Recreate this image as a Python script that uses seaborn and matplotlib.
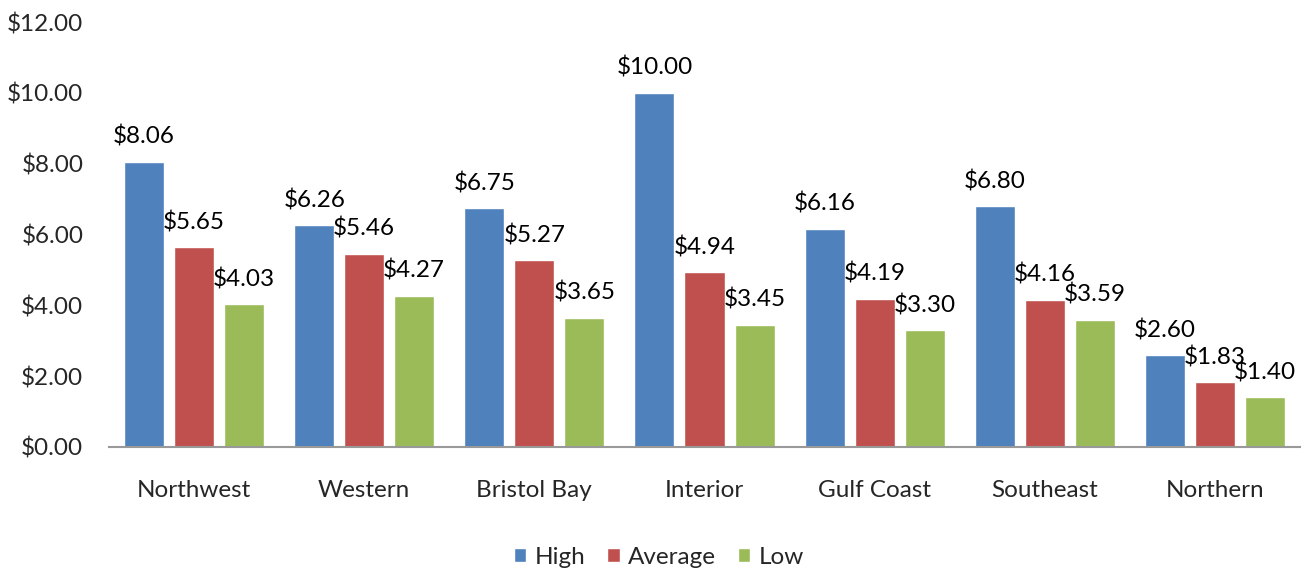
import pandas as pd
import seaborn as sns
import matplotlib.pyplot as plt

regions = ["Northwest", "Western", "Bristol Bay", "Interior", "Gulf Coast", "Southeast", "Northern"]
high = [8.06, 6.26, 6.75, 10.00, 6.16, 6.80, 2.60]
average = [5.65, 5.46, 5.27, 4.94, 4.19, 4.16, 1.83]
low = [4.03, 4.27, 3.65, 3.45, 3.30, 3.59, 1.40]
series = ["High", "Average", "Low"]
colors = ["#4F81BD", "#C0504D", "#9BBB59"]

df = pd.DataFrame({"region": regions, "High": high, "Average": average, "Low": low})
df = df.melt(id_vars="region", var_name="level", value_name="price")

sns.set_style("white")
plt.rcParams["font.family"] = ["Lato", "DejaVu Sans"]
fs = 17.5

fig = plt.figure(figsize=(13.04, 5.71), dpi=100)
ax = fig.add_axes([109 / 1304, 1 - 447 / 571, 1191 / 1304, 425 / 571])

sns.barplot(data=df, x="region", y="price", hue="level", hue_order=series,
            palette=colors, width=0.882, gap=0.2, saturation=1, ax=ax, legend=True)

for cont in ax.containers:
    ax.bar_label(cont, labels=["$%.2f" % v for v in cont.datavalues],
                 padding=10, fontsize=fs, color="black")

ax.set_ylim(0, 12)
ax.set_xlim(-0.5, 6.5)
ax.set_yticks(range(0, 13, 2))
ax.set_yticklabels(["$%.2f" % v for v in range(0, 13, 2)])
ax.tick_params(axis="y", labelsize=fs, pad=18.5, length=0)
ax.tick_params(axis="x", labelsize=fs, pad=24, length=0)
ax.set_xlabel("")
ax.set_ylabel("")
for s in ["top", "right", "left"]:
    ax.spines[s].set_visible(False)
ax.spines["bottom"].set_color("#999999")
ax.spines["bottom"].set_linewidth(1.5)

handles, labels = ax.get_legend_handles_labels()
ax.get_legend().remove()
fig.legend(handles, labels, loc="center", bbox_to_anchor=(659 / 1304, 1 - 557 / 571), ncol=3,
           frameon=False, fontsize=fs, handlelength=0.5, handleheight=0.5,
           handletextpad=0.35, columnspacing=0.9)

fig.savefig("out.png", dpi=100)
